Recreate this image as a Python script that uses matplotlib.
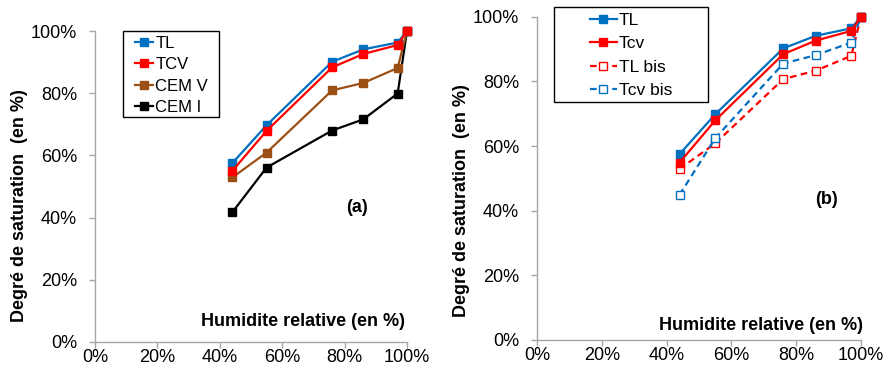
import matplotlib
matplotlib.use("Agg")
import matplotlib.pyplot as plt
from matplotlib.ticker import PercentFormatter
from matplotlib.patches import Rectangle

plt.rcParams['font.family'] = ['Liberation Sans', 'DejaVu Sans']

# Data (relative humidity in %, saturation degree in %)
hr = [44, 55, 76, 86, 97, 100]

a_TL = [57.5, 69.7, 90.1, 94.1, 96.3, 100]
a_TCV = [55.0, 67.9, 88.3, 92.6, 95.5, 100]
a_CEMV = [52.9, 60.9, 80.9, 83.3, 88.1, 100]
a_CEMI = [41.7, 56.1, 68.0, 71.6, 79.9, 100]

b_TL = [57.5, 69.8, 90.2, 94.1, 96.4, 100]
b_Tcv = [54.9, 67.9, 88.4, 92.6, 95.6, 100]
b_TLbis = [52.9, 60.8, 80.7, 83.3, 87.9, 100]
b_Tcvbis = [44.9, 62.4, 85.5, 88.1, 92.0, 100]

ticks = [0, 20, 40, 60, 80, 100]

BLUE = '#0070C0'
RED = '#FF0000'
BROWN = '#9C4F14'
BLACK = '#000000'
GRAY = '#A6A6A6'

W, H = 888, 376
fig = plt.figure(figsize=(W / 100, H / 100), dpi=100)

def fx(px):
    return px / W

def fy(py):
    return 1 - py / H

axL = fig.add_axes([fx(95), fy(342), fx(407) - fx(95), fy(31) - fy(342)])
axR = fig.add_axes([fx(537), fy(340), fx(861) - fx(537), fy(16.7) - fy(340)])

for ax in (axL, axR):
    ax.set_xlim(0, 100)
    ax.set_ylim(0, 100)
    ax.set_xticks(ticks)
    ax.set_yticks(ticks)
    ax.xaxis.set_major_formatter(PercentFormatter(decimals=0))
    ax.yaxis.set_major_formatter(PercentFormatter(decimals=0))
    for s in ('top', 'right'):
        ax.spines[s].set_visible(False)
    for s in ('left', 'bottom'):
        ax.spines[s].set_color(GRAY)
        ax.spines[s].set_linewidth(1.0)
    ax.tick_params(axis='both', direction='out', length=4, width=1.0,
                   color=GRAY, labelsize=13, labelcolor='black')
    ax.tick_params(axis='y', pad=9)
    ax.tick_params(axis='x', pad=1)

ms = 5.2
lw = 1.6

axL.plot(hr, a_TL, color=BLUE, lw=lw, marker='s', ms=ms, label='TL', clip_on=False, zorder=4)
axL.plot(hr, a_TCV, color=RED, lw=lw, marker='s', ms=ms, label='TCV', clip_on=False, zorder=5)
axL.plot(hr, a_CEMV, color=BROWN, lw=lw, marker='s', ms=ms, label='CEM V', clip_on=False, zorder=3)
axL.plot(hr, a_CEMI, color=BLACK, lw=lw, marker='s', ms=ms, label='CEM I', clip_on=False, zorder=2)

legL = axL.legend(loc='upper left', bbox_to_anchor=(fx(135), fy(36)),
                  bbox_transform=fig.transFigure, borderaxespad=0, borderpad=0,
                  fontsize=12, handlelength=1.1, handletextpad=0.12, labelspacing=0.38,
                  frameon=False)

axR.plot(hr, b_TL, color=BLUE, lw=lw, marker='s', ms=ms, label='TL', clip_on=False, zorder=4)
axR.plot(hr, b_Tcv, color=RED, lw=lw, marker='s', ms=ms, label='Tcv', clip_on=False, zorder=5)
axR.plot(hr, b_TLbis, color=RED, lw=lw, ls=(0, (3, 2)), marker='s', ms=ms, mfc='white',
         mew=1.0, label='TL bis', clip_on=False, zorder=3)
axR.plot(hr, b_Tcvbis, color=BLUE, lw=lw, ls=(0, (3, 2)), marker='s', ms=ms, mfc='white',
         mew=1.0, label='Tcv bis', clip_on=False, zorder=3)

legR = axR.legend(loc='upper left', bbox_to_anchor=(fx(590), fy(13)),
                  bbox_transform=fig.transFigure, borderaxespad=0, borderpad=0,
                  fontsize=12.5, handlelength=1.55, handletextpad=0.1, labelspacing=0.47,
                  frameon=False)

# Legend frames (Excel-style, with generous padding)
for (x0, y0, x1, y1) in [(123, 31, 219, 117), (554, 6.7, 708, 102)]:
    fig.patches.append(Rectangle((fx(x0), fy(y1)), fx(x1) - fx(x0), fy(y0) - fy(y1),
                                 transform=fig.transFigure, fill=False,
                                 edgecolor='black', linewidth=1.0, zorder=10))

fig.text(fx(357), fy(208), '(a)', fontsize=13, fontweight='bold', ha='center', va='center')
fig.text(fx(826), fy(200), '(b)', fontsize=13, fontweight='bold', ha='center', va='center')

fig.text(fx(405), fy(321), 'Humidite relative (en %)', fontsize=13, fontweight='bold',
         ha='right', va='center')
fig.text(fx(863), fy(325), 'Humidite relative (en %)', fontsize=13, fontweight='bold',
         ha='right', va='center')

fig.text(fx(20), fy(206), 'Degré de saturation  (en %)', fontsize=13, fontweight='bold',
         rotation=90, ha='center', va='center')
fig.text(fx(461), fy(201), 'Degré de saturation  (en %)', fontsize=13, fontweight='bold',
         rotation=90, ha='center', va='center')

fig.savefig('out.png', dpi=100)
